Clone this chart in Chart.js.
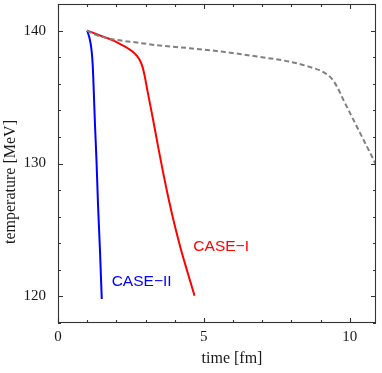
<!DOCTYPE html>
<html><head><meta charset="utf-8">
<script src="https://cdn.jsdelivr.net/npm/chart.js@4"></script>
<style>html,body{margin:0;padding:0;background:#fff}#wrap{width:382px;height:373px}</style>
</head><body><div id="wrap"><canvas id="c" width="382" height="373"></canvas></div>
<script>
// ---- data ----
const caseIITime = [1.0, 1.06, 1.12, 1.16, 1.19, 1.21, 1.23, 1.27, 1.32, 1.37, 1.44, 1.5];
const caseIITemp = [140, 139.6, 139.0, 138.3, 137.4, 136.4, 135.2, 132.8, 130.2, 127.0, 123.4, 119.8];
const caseITime = [1.0, 1.3, 1.6, 1.9, 2.12, 2.3, 2.46, 2.58, 2.7, 2.81, 2.9, 2.97, 3.03, 3.09, 3.25, 3.42, 3.6, 3.8, 4.0, 4.2, 4.45, 4.68];
const caseITemp = [140, 139.75, 139.5, 139.25, 139.0, 138.8, 138.57, 138.38, 138.12, 137.75, 137.25, 136.6, 135.9, 135.2, 133.4, 131.4, 129.35, 127.25, 125.35, 123.65, 121.75, 120.05];
const refTime = [1.0, 1.2, 1.43, 2.0, 2.7, 3.38, 4.53, 5.67, 6.82, 7.96, 8.65, 9.1, 9.39, 9.57, 9.79, 10.02, 10.25, 10.48, 10.71, 10.9];
const refTemp = [140, 139.75, 139.57, 139.3, 139.1, 138.9, 138.67, 138.4, 138.05, 137.65, 137.25, 136.87, 136.37, 135.75, 134.75, 133.75, 132.75, 131.75, 130.75, 129.9];
const xTickLabels = [0, 5, 10];
const yTickLabels = [120, 130, 140];
const xMinorTicks = [0,1,2,3,4,5,6,7,8,9,10];
const yMinorTicks = [118,120,122,124,126,128,130,132,134,136,138,140,142];
const seriesNames = ['CASE\u2212I', 'CASE\u2212II'];
const xTitle = 'time [fm]';
const yTitle = 'temperature [MeV]';

// label anchors (in data units)
const caseLabelAnchors = [{t: 4.64, T: 123.45, color: '#ff0000'}, {t: 1.84, T: 120.75, color: '#0000ff'}];

const toXY = (xs, ys) => xs.map((v, i) => ({x: v, y: ys[i]}));

const decor = {
  id: 'decor',
  afterDatasetsDraw(chart) {
    const {ctx, chartArea: a, scales: {x, y}} = chart;
    ctx.save();
    ctx.strokeStyle = '#333';
    ctx.lineWidth = 1.1;
    ctx.strokeRect(a.left + 0.5, a.top + 0.5, a.right - a.left - 1, a.bottom - a.top - 1);
    ctx.beginPath();
    xMinorTicks.forEach(v => {
      const px = Math.round(x.getPixelForValue(v)) + 0.5;
      const len = xTickLabels.includes(v) ? 5 : 3;
      ctx.moveTo(px, a.bottom); ctx.lineTo(px, a.bottom - len);
      ctx.moveTo(px, a.top); ctx.lineTo(px, a.top + len);
    });
    yMinorTicks.forEach(v => {
      const py = Math.round(y.getPixelForValue(v)) + 0.5;
      const len = yTickLabels.includes(v) ? 5 : 3;
      ctx.moveTo(a.left, py); ctx.lineTo(a.left + len, py);
      ctx.moveTo(a.right, py); ctx.lineTo(a.right - len, py);
    });
    ctx.stroke();
    // series labels
    ctx.font = '15.5px "Liberation Sans", Arial, sans-serif';
    ctx.textAlign = 'left';
    ctx.textBaseline = 'alphabetic';
    caseLabelAnchors.forEach((l, i) => {
      ctx.fillStyle = l.color;
      ctx.fillText(seriesNames[i], x.getPixelForValue(l.t), y.getPixelForValue(l.T));
    });
    // axis titles
    ctx.fillStyle = '#1a1a1a';
    ctx.font = '16px "Liberation Serif", "Times New Roman", serif';
    ctx.textAlign = 'center';
    ctx.fillText(xTitle, 232, 363);
    ctx.translate(15, 182);
    ctx.rotate(-Math.PI / 2);
    ctx.fillText(yTitle, 0, 0);
    ctx.restore();
  }
};

new Chart(document.getElementById('c'), {
  type: 'line',
  data: {
    datasets: [
      {data: toXY(refTime, refTemp), borderColor: '#808080', borderWidth: 2, borderDash: [5, 3], cubicInterpolationMode: 'monotone'},
      {data: toXY(caseITime, caseITemp), borderColor: '#ff0000', borderWidth: 2, cubicInterpolationMode: 'monotone'},
      {data: toXY(caseIITime, caseIITemp), borderColor: '#0000ff', borderWidth: 2, cubicInterpolationMode: 'monotone'}
    ]
  },
  options: {
    responsive: false,
    animation: false,
    devicePixelRatio: 1,
    layout: {padding: {left: 0, right: 6, top: 4, bottom: 0}},
    elements: {point: {radius: 0}},
    plugins: {legend: {display: false}, tooltip: {enabled: false}},
    scales: {
      x: {
        type: 'linear', min: 0, max: 10.9,
        grid: {display: false}, border: {display: false},
        afterBuildTicks: s => { s.ticks = xTickLabels.map(v => ({value: v})); },
        afterFit: s => { s.height = 50; s.paddingLeft = 0; s.paddingRight = 0; },
        ticks: {padding: -3, color: '#1a1a1a', font: {family: '"Liberation Serif", serif', size: 15}, maxRotation: 0}
      },
      y: {
        type: 'linear', min: 118, max: 142,
        grid: {display: false}, border: {display: false},
        afterBuildTicks: s => { s.ticks = yTickLabels.map(v => ({value: v})); },
        afterFit: s => { s.width = 58; s.paddingTop = 0; s.paddingBottom = 0; },
        ticks: {padding: 4, color: '#1a1a1a', font: {family: '"Liberation Serif", serif', size: 15}}
      }
    }
  },
  plugins: [decor]
});
</script>
</body></html>
